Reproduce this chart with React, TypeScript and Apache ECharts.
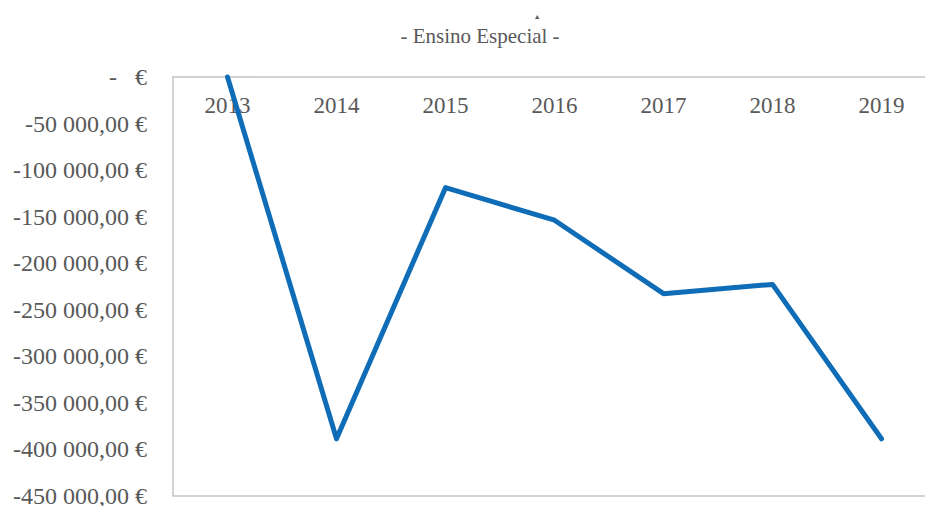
import React, { useEffect, useRef } from "react";
import * as echarts from "echarts";

const years = ["2013", "2014", "2015", "2016", "2017", "2018", "2019"];
const values = [0, -389000, -119000, -154000, -233000, -223000, -389000];
const titleText = "- Ensino Especial -";
const yMin = -450000;
const yMax = 0;
const yStep = 50000;

function formatEuro(v: number): string {
  if (v === 0) return "-   €";
  const neg = v < 0;
  const abs = Math.abs(v);
  const intPart = Math.floor(abs).toString().replace(/\B(?=(\d{3})+(?!\d))/g, " ");
  return (neg ? "-" : "") + intPart + ",00 €";
}

export default function App() {
  const ref = useRef<HTMLDivElement>(null);
  useEffect(() => {
    document.body.style.margin = "0";
    document.body.style.overflow = "hidden";
    if (!ref.current) return;
    const chart = echarts.init(ref.current, null, { renderer: "svg" });
    const font = "'Liberation Serif', 'Times New Roman', serif";
    const borderLine = { show: true, onZero: false, lineStyle: { color: "#c4c4c4", width: 1.5 } };
    chart.setOption({
      animation: false,
      backgroundColor: "#ffffff",
      graphic: [
        {
          type: "text",
          x: 480,
          y: 36,
          style: {
            text: titleText,
            fill: "#595959",
            font: "21px " + font,
            textAlign: "center",
            textVerticalAlign: "middle",
          },
        },
        {
          type: "polygon",
          shape: { points: [[535, 19], [539.5, 19], [537.2, 15]] },
          style: { fill: "#606060" },
        },
      ],
      grid: {
        left: 173,
        top: 77,
        right: -11,
        bottom: 10.5,
        show: false,
        containLabel: false,
        outerBoundsMode: "none",
      },
      xAxis: [
        {
          type: "category",
          data: years,
          position: "top",
          boundaryGap: true,
          axisLine: borderLine,
          axisTick: { show: false },
          axisLabel: {
            inside: true,
            color: "#595959",
            fontFamily: font,
            fontSize: 23,
            margin: 17,
          },
          splitLine: { show: false },
        },
        {
          type: "category",
          data: years,
          position: "bottom",
          boundaryGap: true,
          axisLine: borderLine,
          axisTick: { show: false },
          axisLabel: { show: false },
          splitLine: { show: false },
        },
      ],
      yAxis: {
        type: "value",
        min: yMin,
        max: yMax,
        interval: yStep,
        axisLine: borderLine,
        axisTick: { show: false },
        splitLine: { show: false },
        axisLabel: {
          color: "#595959",
          fontFamily: font,
          fontSize: 24,
          margin: 26,
          padding: [4, 0, 0, 0],
          formatter: (v: number) => formatEuro(v),
        },
      },
      series: [
        {
          type: "line",
          data: values,
          xAxisIndex: 0,
          symbol: "none",
          clip: false,
          lineStyle: {
            color: "#0f6cb6",
            width: 5,
            cap: "round",
            join: "round",
          },
        },
      ],
    });
    return () => chart.dispose();
  }, []);
  return <div ref={ref} style={{ width: 925, height: 506 }} />;
}
